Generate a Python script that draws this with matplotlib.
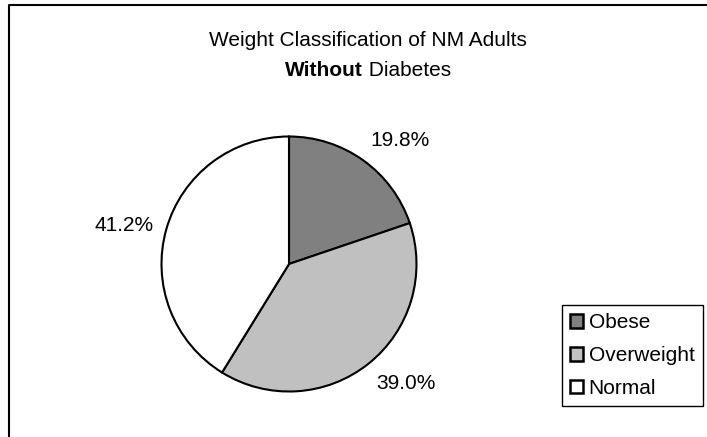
import matplotlib
matplotlib.use("Agg")
import matplotlib.pyplot as plt
from matplotlib.patches import Patch
from matplotlib.lines import Line2D

categories = ["Obese", "Overweight", "Normal"]
values = [19.8, 39.0, 41.2]
colors = ["#808080", "#C0C0C0", "#FFFFFF"]
title_line1 = "Weight Classification of NM Adults"
title_bold = "Without"
title_rest = " Diabetes"

plt.rcParams['font.family'] = ['Liberation Sans', 'DejaVu Sans']

W, H = 707, 437
fig = plt.figure(figsize=(W / 100, H / 100), dpi=100)
fig.patch.set_facecolor("white")

# pie axes: centre (289, 264) px from top-left, radius 127.5 px
cx, cy, R = 289, 264, 127.5
ax = fig.add_axes([(cx - R) / W, (H - cy - R) / H, 2 * R / W, 2 * R / H])
labels = [f"{v:.1f}%" for v in values]
wedges, texts = ax.pie(values, colors=colors, startangle=90, counterclock=False,
                       labels=labels, labeldistance=1.1,
                       wedgeprops=dict(edgecolor="black", linewidth=1.5, clip_on=False),
                       textprops=dict(fontsize=15, color="black"))
for t in texts:
    x, y = t.get_position()
    if y > 0.5:
        t.set_va("bottom")
    elif y < -0.5:
        t.set_va("top")
    else:
        t.set_va("center")
ax.set_xlim(-1, 1)
ax.set_ylim(-1, 1)
ax.set_aspect("equal")
ax.axis("off")

# title
fig.text(368 / W, 1 - 40 / H, title_line1, ha="center", va="center", fontsize=15)
tb = fig.text(0, 1 - 70 / H, title_bold, ha="left", va="center", fontsize=15, fontweight="bold")
tr = fig.text(0, 1 - 70 / H, title_rest, ha="left", va="center", fontsize=15)
fig.canvas.draw()
r = fig.canvas.get_renderer()
wb = tb.get_window_extent(r).width
wr = tr.get_window_extent(r).width
x0 = 368 - (wb + wr) / 2
tb.set_x(x0 / W)
tr.set_x((x0 + wb) / W)

# legend
handles = [Patch(facecolor=c, edgecolor="black", linewidth=1.8) for c in colors]
leg = fig.legend(handles, categories, loc="upper left",
                 bbox_to_anchor=(562 / W, 1 - 305 / H), borderaxespad=0,
                 fontsize=15, handlelength=0.63, handleheight=0.63,
                 handletextpad=0.25, labelspacing=0.66, borderpad=0.4,
                 fancybox=False, framealpha=1, edgecolor="black")
leg.get_frame().set_linewidth(1.0)

# outer chart frame (left and top edges visible)
fig.add_artist(Line2D([8.5 / W, 8.5 / W, 1.0], [0.0, 1 - 5 / H, 1 - 5 / H],
                      transform=fig.transFigure, color="black", linewidth=1.5))

fig.savefig("out.png", dpi=100, facecolor="white")
